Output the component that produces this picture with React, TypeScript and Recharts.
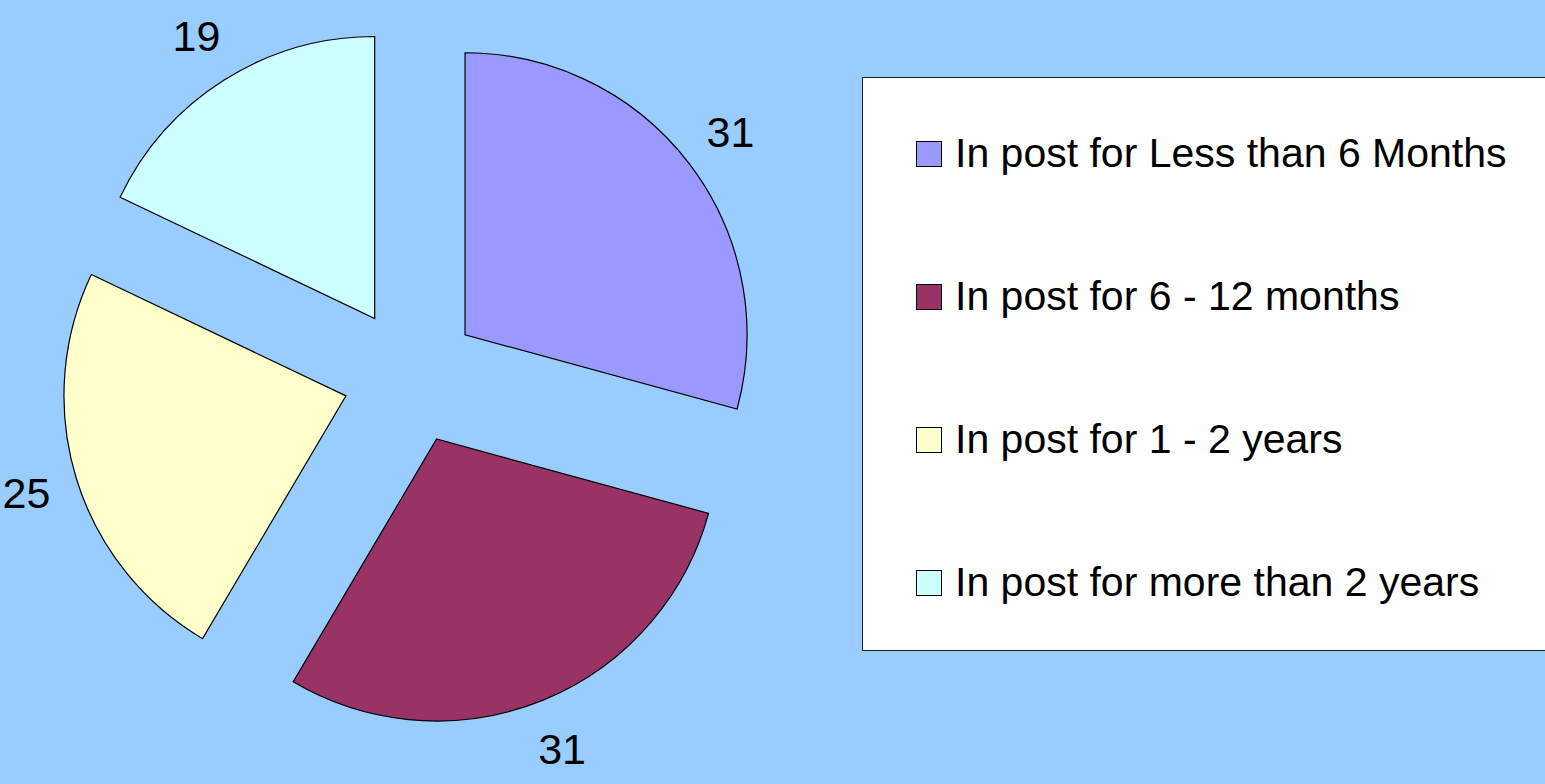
import React from "react";
import { PieChart, Pie, Cell, Legend } from "recharts";

const categories = [
  "In post for Less than 6 Months",
  "In post for 6 - 12 months",
  "In post for 1 - 2 years",
  "In post for more than 2 years",
];
const values = [31, 31, 25, 19];
const colors = ["#9999FF", "#993366", "#FFFFCC", "#CCFFFF"];

const data = categories.map((name, i) => ({ name, value: values[i] }));

const RADIAN = Math.PI / 180;
const CX = 406;
const CY = 371;
const RADIUS = 282;
const EXPLODE = 68;
const total = values.reduce((a, b) => a + b, 0);

// mid angle of each slice, clockwise from 12 o'clock
function midAngleFor(k: number) {
  const before = values.slice(0, k).reduce((a, b) => a + b, 0);
  return ((before + values[k] / 2) / total) * 360;
}

function LegendBox() {
  return (
    <div
      style={{
        width: 700,
        height: 574,
        background: "#fff",
        border: "1px solid #222",
        boxSizing: "border-box",
        paddingTop: 4,
      }}
    >
      {categories.map((c, i) => (
        <div
          key={c}
          style={{
            display: "flex",
            alignItems: "center",
            height: 143,
            marginLeft: 53,
            fontFamily: "Liberation Sans, Arial, sans-serif",
            fontSize: 41,
            color: "#000",
            lineHeight: 1,
          }}
        >
          <span
            style={{
              display: "inline-block",
              width: 26,
              height: 26,
              background: colors[i],
              border: "1.5px solid #000",
              marginRight: 13,
              boxSizing: "border-box",
            }}
          />
          <span>{c}</span>
        </div>
      ))}
    </div>
  );
}

export default function App() {
  return (
    <div style={{ position: "absolute", left: 0, top: 0, width: 1545, height: 784, background: "#99CCFF" }}>
      <PieChart width={1545} height={784}>
        {values.map((_, k) => {
          const a = midAngleFor(k) * RADIAN;
          const cx = CX + EXPLODE * Math.sin(a);
          const cy = CY - EXPLODE * Math.cos(a);
          return (
            <Pie
              key={k}
              data={data}
              dataKey="value"
              nameKey="name"
              cx={cx}
              cy={cy}
              innerRadius={0}
              outerRadius={RADIUS}
              startAngle={90}
              endAngle={-270}
              isAnimationActive={false}
              labelLine={false}
              label={(p: any) => {
                if (p.index !== k) return null;
                const r = p.outerRadius + 52;
                const x = p.cx + r * Math.cos(-p.midAngle * RADIAN);
                const y = p.cy + r * Math.sin(-p.midAngle * RADIAN);
                return (
                  <text
                    x={x}
                    y={y}
                    textAnchor="middle"
                    dominantBaseline="central"
                    fontFamily="Liberation Sans, Arial, sans-serif"
                    fontSize={43}
                    fill="#000"
                  >
                    {p.value}
                  </text>
                );
              }}
            >
              {data.map((d, i) => (
                <Cell
                  key={d.name}
                  fill={i === k ? colors[i] : "none"}
                  stroke={i === k ? "#000" : "none"}
                  strokeWidth={1.2}
                />
              ))}
            </Pie>
          );
        })}
        <Legend
          layout="vertical"
          align="right"
          verticalAlign="top"
          wrapperStyle={{ left: 862, top: 77, width: 700, height: 574 }}
          content={() => <LegendBox />}
        />
      </PieChart>
    </div>
  );
}
